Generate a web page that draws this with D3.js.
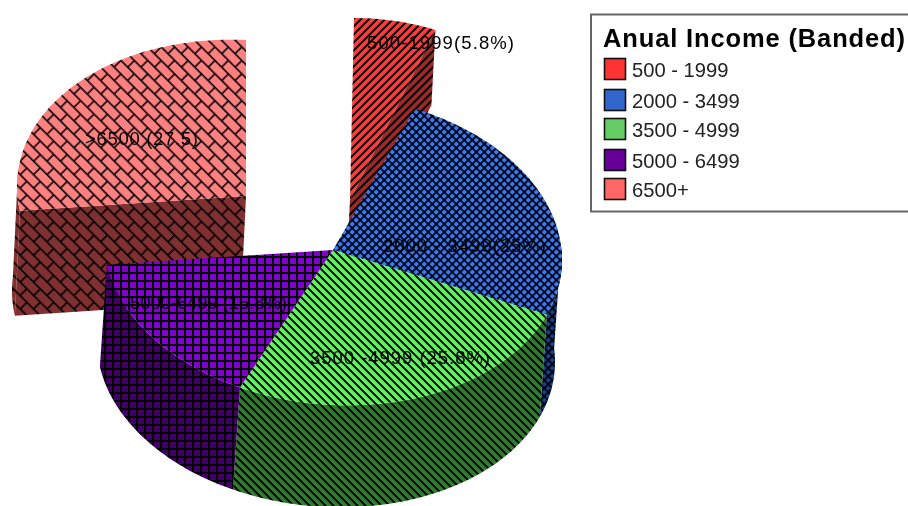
<!DOCTYPE html>
<html><head><meta charset="utf-8">
<script src="https://cdnjs.cloudflare.com/ajax/libs/d3/7.8.5/d3.min.js"></script>
<style>html,body{margin:0;padding:0;background:#fff;overflow:hidden}svg{display:block;filter:blur(0.4px)}</style>
</head><body><svg id="c" width="908" height="506"></svg>
<script>
// ---- data ----
const categories = ["500 - 1999","2000 - 3499","3500 - 4999","5000 - 6499","6500+"];
const values = [5.8,25,25.8,15.8,27.5];
const sliceLabels = ["500-1999(5.8%)","2000 - 3499(25%)","3500 -4999 (25.8%)","5000-6499 (15.8%)",">6500 (27.5)"];
const legendTitle = "Anual Income (Banded)";
// ---- styles & layout ----
const legendColors = ["#ff3333","#3366cc","#66cc66","#660099","#ff6666"];
const topColors = ["#ff3c3c","#3d78f0","#66f066","#8000cc","#ff8080"];
const wallColors = ["#a02828","#1e3c80","#337a33","#400066","#803030"];
const patternKinds = ["up","cross","down","grid","brick"];
const mainGeom = {cx:333,cy:250,rx:229,ry:155,tilt:10,skew:0,dx:-7,dy:102};
const geoms = [
  {cx:350,cy:200,rx:229,ry:182,tilt:0,skew:4,dx:-4,dy:75},
  mainGeom, mainGeom, mainGeom,
  {cx:246,cy:196,rx:229,ry:156,tilt:10,skew:0,dx:-5,dy:105}
];
const labelBoxes = [[367,49,147],[383,252,163],[310,364,180],[130,309,157],[85,145,113]];
const svg = d3.select("#c");
const defs = svg.append("defs");
function makePattern(id,kind,bg){
  const cfg = {up:{s:5.66,r:45},down:{s:5.66,r:-45},cross:{s:5.66,r:45},grid:{s:8,r:0},brick:{s:19,r:45}}[kind];
  const p = defs.append("pattern").attr("id",id).attr("patternUnits","userSpaceOnUse")
    .attr("width",cfg.s).attr("height",cfg.s).attr("patternTransform",`rotate(${cfg.r})`);
  p.append("rect").attr("width",cfg.s).attr("height",cfg.s).attr("fill",bg);
  const L=(x1,y1,x2,y2,w)=>p.append("line").attr("x1",x1).attr("y1",y1).attr("x2",x2).attr("y2",y2)
    .attr("stroke","#000").attr("stroke-width",w);
  if(kind==="up"||kind==="down"){ L(2.8,0,2.8,cfg.s,2); }
  if(kind==="cross"){ L(2.8,0,2.8,cfg.s,1.7); L(0,2.8,cfg.s,2.8,1.7); }
  if(kind==="grid"){ L(1,0,1,cfg.s,2); L(0,1,cfg.s,1,2); }
  if(kind==="brick"){ const h=cfg.s/2,q=cfg.s/4,t=3*q; L(0,q,cfg.s,q,1.6); L(0,t,cfg.s,t,1.6); L(q,q,q,t,1.6); L(t,t,t,cfg.s,1.6); L(t,0,t,q,1.6); }
}
topColors.forEach((c,i)=>makePattern("t"+i,patternKinds[i],c));
wallColors.forEach((c,i)=>makePattern("w"+i,patternKinds[i],c));

const arcs = d3.pie().sort(null).value(d=>d)(values);
const pt = (g,a,r=1,z=0)=>[
  g.cx + r*(g.rx*Math.sin(a) + g.skew*Math.cos(a)) + z*g.dx,
  g.cy + r*(-g.ry*Math.cos(a) + g.tilt*Math.sin(a)) + z*g.dy];
const line = d3.line();
const sweep = (a0,a1)=>{const n=Math.max(2,Math.ceil((a1-a0)/0.02));return d3.range(n+1).map(i=>a0+(a1-a0)*i/n);};
const rad = d=>d*Math.PI/180;
const topPath = (g,d)=>line([[g.cx,g.cy],...sweep(d.startAngle,d.endAngle).map(a=>pt(g,a))])+"Z";
const radialWall = (g,a)=>line([[g.cx,g.cy],pt(g,a),pt(g,a,1,1),pt(g,a,0,1)])+"Z";
function outerWall(g,d){
  const a0=Math.max(d.startAngle,rad(85)),a1=Math.min(d.endAngle,rad(275));
  if(a1<=a0) return null;
  const s=sweep(a0,a1);
  return line([...s.map(a=>pt(g,a)),...s.slice().reverse().map(a=>pt(g,a,1,1))])+"Z";
}
const gp = svg.append("g");
const add=(d,fill)=>{ if(d) gp.append("path").attr("d",d).attr("fill",fill); };
// exploded slices, back first
add(radialWall(geoms[4],arcs[4].startAngle),"url(#w4)");
add(outerWall(geoms[4],arcs[4]),"url(#w4)");
add(topPath(geoms[4],arcs[4]),"url(#t4)");
add(radialWall(geoms[0],arcs[0].endAngle),"url(#w0)");
add(topPath(geoms[0],arcs[0]),"url(#t0)");
// main body
[1,2,3].forEach(i=>add(outerWall(geoms[i],arcs[i]),`url(#w${i})`));
[1,2,3].forEach(i=>add(topPath(geoms[i],arcs[i]),`url(#t${i})`));

// labels
svg.append("g").selectAll("text").data(sliceLabels).join("text")
  .attr("x",(d,i)=>labelBoxes[i][0]).attr("y",(d,i)=>labelBoxes[i][1])
  .attr("textLength",(d,i)=>labelBoxes[i][2]).attr("lengthAdjust","spacing")
  .attr("font-family","'Liberation Sans',Arial,sans-serif").attr("font-size",18.5).attr("fill","#000").text(d=>d);

// legend
const lg = svg.append("g");
lg.append("rect").attr("x",591).attr("y",14.5).attr("width",330).attr("height",197)
  .attr("fill","#fff").attr("stroke","#666").attr("stroke-width",2);
lg.append("text").attr("x",603).attr("y",47).attr("textLength",302).attr("lengthAdjust","spacing")
  .attr("font-family","'Liberation Sans',Arial,sans-serif").attr("font-weight","bold").attr("font-size",25.5).attr("fill","#000").text(legendTitle);
const rowY = d3.scaleOrdinal().domain(categories).range([58,89,118,149,178]);
const row = lg.selectAll("g.r").data(categories).join("g").attr("class","r")
  .attr("transform",d=>`translate(604,${rowY(d)})`);
row.append("rect").attr("x",0.5).attr("y",0.5).attr("width",21).attr("height",21)
  .attr("fill",(d,i)=>legendColors[i]).attr("stroke","#111").attr("stroke-width",1.6);
row.append("text").attr("x",28).attr("y",19).attr("font-family","'Liberation Sans',Arial,sans-serif")
  .attr("font-size",20.2).attr("fill","#222").text(d=>d);
</script></body></html>
